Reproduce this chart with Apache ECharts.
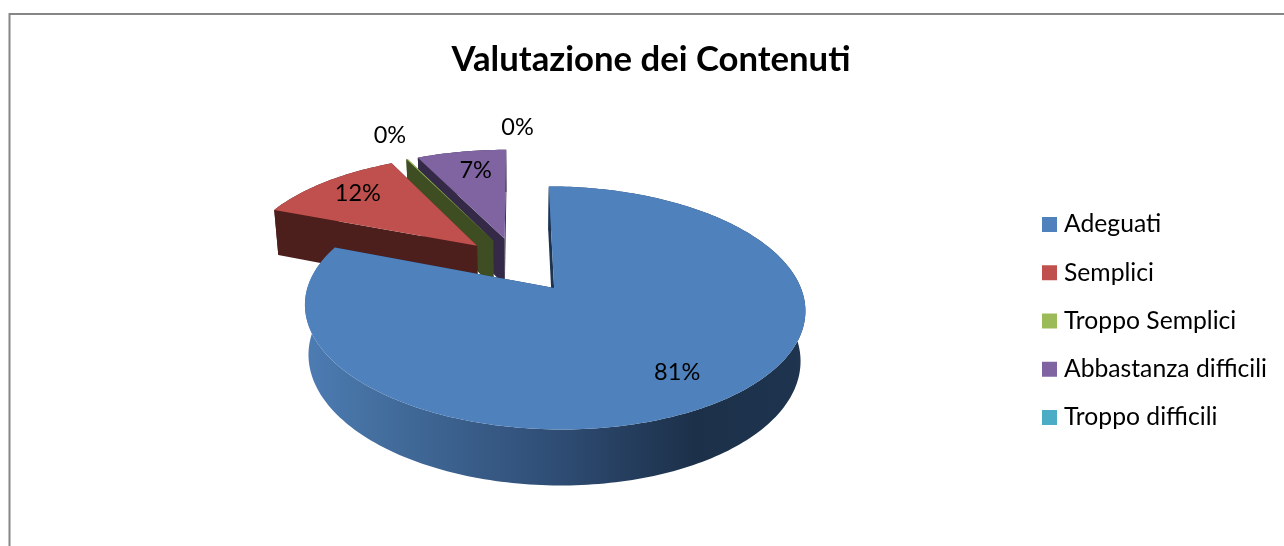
<!DOCTYPE html>
<html><head><meta charset="utf-8">
<style>html,body{margin:0;padding:0;background:#fff}#c{width:1284px;height:546px}</style>
<script src="https://cdn.jsdelivr.net/npm/echarts@6/dist/echarts.min.js"></script>
</head><body><div id="c"></div>
<script>
const categories = ['Adeguati','Semplici','Troppo Semplici','Abbastanza difficili','Troppo difficili'];
const values = [80.9, 11.8, 0.1, 7.2, 0];
const colors = ['#4f81bd','#c0504d','#9bbb59','#8064a2','#4bacc6'];
const wallColors = ['#1d3350','#4c1e1c','#3e4e22','#342a48','#1f4a55'];
const drawOrder = [4, 3, 2, 1, 0]; // painter's z per category
const labelRadius = [0.78, 0.75, 1.33, 0.76, 1.30];
const labelNudge = [[-3,-1],[-3,-3],[7,-1],[5,0],[1,0]];
const explode = [0.27, 0.23, 0.23, 0.23, 0.23];

// perspective projection of the unit-disc plane (u right, v towards viewer)
const TOP = {x0:516.5, y0:262.5, a:110, b:238, k:-0.159};
const BOT = {x0:516.5, y0:310.3, a:115.4, b:234, k:-0.159};
const proj = (P,u,v) => { const w = 1 + P.k*v; return [P.x0 + P.b*u/w, P.y0 + P.a*v/w]; };

const total = values.reduce((s,x)=>s+x,0);
const starts = []; values.reduce((s,x,i)=>(starts[i]=s, s+x),0);
const TAU = Math.PI*2;

function renderSlice(idx){
  return function(params, api){
    const val = api.value(0);
    const a0 = starts[idx]/total*TAU, a1 = a0 + val/total*TAU, mid = (a0+a1)/2;
    const ox = explode[idx]*Math.sin(mid), oy = -explode[idx]*Math.cos(mid);
    const at = (P,ang,r) => proj(P, ox + r*Math.sin(ang), oy - r*Math.cos(ang));
    const children = [];
    if (val > 0) {
      const steps = Math.max(2, Math.ceil((a1-a0)/0.02));
      const arcT = [], arcB = [];
      for (let i=0;i<=steps;i++){ const t=a0+(a1-a0)*i/steps; arcT.push(at(TOP,t,1)); arcB.push(at(BOT,t,1)); }
      const wallFill = idx===0 ? new echarts.graphic.LinearGradient(0,0,1,0,[
        {offset:0,color:'#4d7cb4'},{offset:0.14,color:'#446f9f'},{offset:0.5,color:'#2f4d75'},
        {offset:0.78,color:'#1c3049'},{offset:1,color:'#1e344f'}]) : wallColors[idx];
      children.push({type:'polygon',shape:{points:[at(TOP,a1,0),arcT[steps],arcB[steps],at(BOT,a1,0)]},style:{fill:wallColors[idx]}});
      children.push({type:'polygon',shape:{points:arcT.concat(arcB.slice().reverse())},style:{fill:wallFill}});
      children.push({type:'polygon',shape:{points:[at(TOP,a0,0),arcT[0],arcB[0],at(BOT,a0,0)]},style:{fill:wallColors[idx]}});
      children.push({type:'polygon',shape:{points:[at(TOP,a0,0)].concat(arcT)},style:{fill:colors[idx]}});
    }
    const lp = at(TOP,mid,labelRadius[idx]);
    children.push({type:'text',z2:10,style:{x:lp[0]+labelNudge[idx][0],y:lp[1]+labelNudge[idx][1],text:Math.round(val/total*100)+'%',
      fontFamily:'Lato',fontSize:23.5,fill:'#000',align:'center',verticalAlign:'middle'}});
    return {type:'group',children};
  };
}

const chart = echarts.init(document.getElementById('c'),null,{renderer:'canvas'});
chart.setOption({
  animation:false,
  backgroundColor:'#fff',
  title:{text:'Valutazione dei Contenuti',left:646,textAlign:'center',top:37,
    textStyle:{fontFamily:'Lato',fontWeight:'bold',fontSize:34.7,color:'#000'}},
  legend:{orient:'vertical',left:1037,top:207,icon:'rect',itemWidth:15,itemHeight:15,itemGap:23.25,
    data:categories,textStyle:{fontFamily:'Lato',fontSize:24.7,color:'#000',padding:[0,0,0,2]}},
  graphic:[{type:'polyline',silent:true,shape:{points:[[9.5,546],[9.5,14],[1284,14]]},
    style:{stroke:'#868686',lineWidth:2,fill:null}}],
  series:categories.map((name,i)=>({
    type:'custom',name,coordinateSystem:'none',z:2+drawOrder[i],silent:true,
    itemStyle:{color:colors[i]},
    renderItem:renderSlice(i),data:[[values[i]]]
  }))
});
</script></body></html>
